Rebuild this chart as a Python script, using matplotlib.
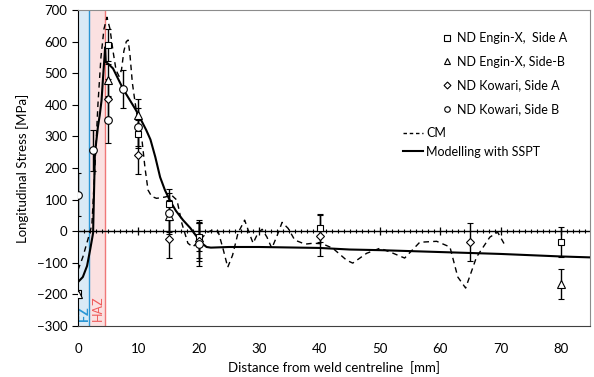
import numpy as np
import matplotlib
matplotlib.use('Agg')
import matplotlib.pyplot as plt
from matplotlib.lines import Line2D

plt.rcParams['font.family'] = ['Lato', 'DejaVu Sans']

# measured points (x in mm, stress in MPa, error bar half-length)
engx_a_x = [0, 5, 10, 15, 20, 40, 80]
engx_a_y = [-195, 590, 307, 85, -19, 10, -35]
engx_a_e = [10, 50, 45, 50, 45, 45, 48]

engx_b_x = [0, 5, 10, 15, 20, 80]
engx_b_y = [-200, 478, 367, 48, -30, -168]
engx_b_e = [10, 50, 50, 50, 55, 48]

kow_a_x = [5, 10, 15, 20, 40, 65]
kow_a_y = [418, 240, -25, -30, -15, -35]
kow_a_e = [65, 60, 60, 65, 65, 60]

kow_b_x = [0, 2.5, 5, 7.5, 10, 15, 20]
kow_b_y = [115, 256, 351, 449, 329, 57, -41]
kow_b_e = [68, 65, 73, 60, 60, 65, 70]

# CM curve
cm_x = [0, 0.8, 1.7, 2.3, 2.8, 3.3, 3.8, 4.3, 4.8, 5.3, 5.8, 6.3, 6.8, 7.2, 7.6, 8.0,
        8.3, 8.6, 9.0, 9.4, 10.0, 10.6, 11.1, 11.6, 12.2, 13.0, 14.4, 15.5, 16.4, 17.2,
        18.2, 19.0, 20.5, 21.3, 22.2, 23.2, 24.0, 24.8, 25.6, 26.5, 27.6, 28.5, 29.0,
        29.8, 30.5, 31.3, 32.1, 33.0, 33.8, 34.8, 35.9, 37.6, 39.0, 40.5, 42.2, 44.5,
        45.5, 47.8, 50.0, 51.7, 54.1, 56.6, 59.4, 61.6, 62.9, 64.2, 66.0, 68.2, 69.5, 70.7]
cm_y = [-123, -82, -22, 20, 200, 400, 550, 640, 677, 640, 570, 510, 490, 510, 570, 600,
        605, 560, 470, 415, 340, 288, 200, 130, 110, 104, 108, 114, 98, 25,
        -38, -50, -22, -5, 3, 0, -54, -114, -76, -6, 35, -13, -38,
        -6, 6, -19, -54, -13, 28, 9, -28, -41, -38, -40, -54, -92,
        -101, -70, -54, -66, -85, -35, -32, -50, -145, -180, -82, -19, -3, -44]

# SSPT model curve
sspt_x = [0, 0.8, 1.5, 2.0, 2.5, 2.8, 3.3, 3.6, 3.9, 4.2, 4.5, 4.6, 5.0, 5.8, 7.5, 9.6,
          10.5, 11.3, 12.0, 12.8, 13.6, 14.4, 15.2, 16.2, 17.4, 18.6, 19.7, 20.5, 21.3,
          22.0, 25, 30, 40, 45, 50, 55, 60, 70, 80, 85]
sspt_y = [-161, -145, -110, -60, -6, 245, 330, 367, 414, 500, 582, 535, 530, 515, 449, 383,
          350, 320, 290, 235, 171, 130, 98, 65, 35, 10, -18, -38, -50,
          -52, -50, -50, -53, -58, -60, -63, -66, -72, -80, -83]

fz_edge = 1.8
haz_edge = 4.5

fig = plt.figure(figsize=(5.94, 3.77), dpi=100)
ax = fig.add_axes([0.1313, 0.1353, 0.862, 0.8382])

ax.set_xlim(0, 84.8)
ax.set_ylim(-300, 700)

# weld zones
ax.axvspan(0, fz_edge, color='#d9eaf6', zorder=0, lw=0)
ax.axvspan(fz_edge, haz_edge, color='#fbe1e1', zorder=0, lw=0)
ax.axvline(fz_edge, color='#2a96d4', lw=1.0, zorder=1)
ax.axvline(haz_edge, color='#f07878', lw=1.0, zorder=1)
ax.text(fz_edge / 2 + 0.1, -285, 'FZ', rotation=90, color='#2a96d4', fontsize=9,
        fontweight='bold', ha='center', va='bottom', zorder=2)
ax.text((fz_edge + haz_edge) / 2 + 0.1, -285, 'HAZ', rotation=90, color='#ee5a5a',
        fontsize=9, ha='center', va='bottom', zorder=2)

# zero line with ticks
ax.axhline(0, color='black', lw=1.0, zorder=2)
ax.vlines(np.arange(1, 85), -7, 7, color='black', lw=0.8, zorder=2)
ax.vlines(np.arange(10, 85, 10), -13, 13, color='black', lw=0.9, zorder=2)

ax.plot(cm_x, cm_y, color='black', lw=1.0, ls=(0, (4, 3)), zorder=3)
ax.plot(sspt_x, sspt_y, color='black', lw=1.5, zorder=4)

mk = dict(mfc='white', mec='black', mew=0.8, ecolor='black', elinewidth=1.0,
          capsize=2, capthick=1.0, ls='none', zorder=5)
ax.errorbar(engx_a_x, engx_a_y, yerr=engx_a_e, fmt='s', ms=5, **mk)
ax.errorbar(engx_b_x, engx_b_y, yerr=engx_b_e, fmt='^', ms=5.5, **mk)
ax.errorbar(kow_a_x, kow_a_y, yerr=kow_a_e, fmt='D', ms=4.5, **mk)
ax.errorbar(kow_b_x, kow_b_y, yerr=kow_b_e, fmt='o', ms=5.5, **mk)

ax.set_yticks(np.arange(-300, 701, 100))
ax.set_xticks(np.arange(0, 81, 10))
ax.tick_params(axis='x', length=0, pad=12.5, labelsize=9.5)
ax.tick_params(axis='y', length=4, direction='out', labelsize=9.5, width=0.8)
ax.set_xlabel('Distance from weld centreline  [mm]', fontsize=9.5, labelpad=4)
ax.set_ylabel('Longitudinal Stress [MPa]', fontsize=9.5, labelpad=6)

for s in ['top', 'right']:
    ax.spines[s].set_color('#8c8c8c')
ax.spines['left'].set_color('black')
ax.spines['bottom'].set_color('#404040')

# legends
h1 = [Line2D([], [], marker='s', ms=4, mfc='white', mec='black', mew=0.8, ls='none'),
      Line2D([], [], marker='^', ms=4, mfc='white', mec='black', mew=0.8, ls='none'),
      Line2D([], [], marker='D', ms=3.5, mfc='white', mec='black', mew=0.8, ls='none'),
      Line2D([], [], marker='o', ms=4, mfc='white', mec='black', mew=0.8, ls='none')]
l1 = ['ND Engin-X,  Side A', 'ND Engin-X, Side-B', 'ND Kowari, Side A', 'ND Kowari, Side B']
leg1 = fig.legend(h1, l1, loc='upper left', bbox_to_anchor=(0.742, 0.915), frameon=False,
                  fontsize=9, handlelength=1.0, handletextpad=0.3, labelspacing=0.93,
                  borderpad=0, borderaxespad=0)
h2 = [Line2D([], [], color='black', lw=1.0, ls=(0, (2.5, 2))),
      Line2D([], [], color='black', lw=1.5)]
l2 = ['CM', 'Modelling with SSPT']
leg2 = fig.legend(h2, l2, loc='upper left', bbox_to_anchor=(0.678, 0.663), frameon=False,
                  fontsize=9, handlelength=1.6, handletextpad=0.3, labelspacing=0.52,
                  borderpad=0, borderaxespad=0)

fig.savefig('out.png', dpi=100)
